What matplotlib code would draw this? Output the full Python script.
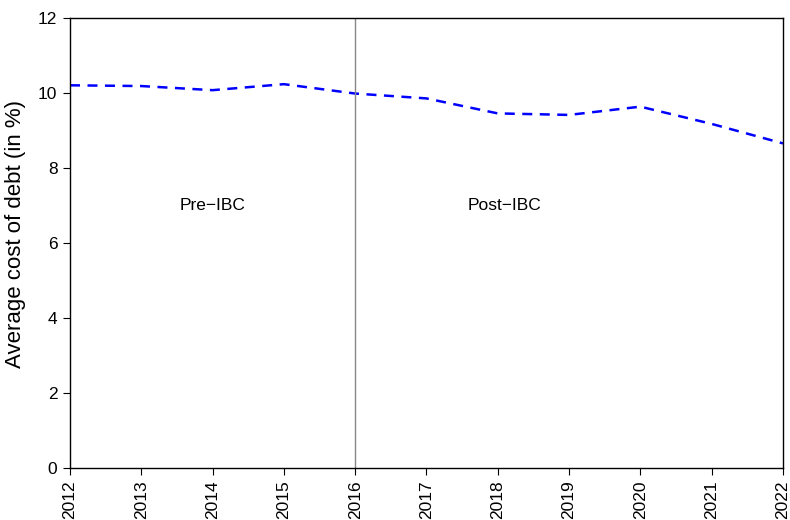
import matplotlib
matplotlib.use('Agg')
import matplotlib.pyplot as plt

plt.rcParams['font.family'] = ['Liberation Sans', 'DejaVu Sans']

# yearly average cost of debt
years = [2012, 2013, 2014, 2015, 2016, 2017, 2018, 2019, 2020, 2021, 2022]
cost = [10.21, 10.19, 10.08, 10.24, 9.99, 9.86, 9.46, 9.42, 9.64, 9.18, 8.66]
ibc_year = 2016

fig = plt.figure(figsize=(7.9, 5.2), dpi=100)
ax = fig.add_axes([0.0886, 0.1, 0.9025, 0.865])

ax.plot(years, cost, color='blue', lw=1.8, linestyle=(0, (4, 3)))
ax.axvline(ibc_year, color='#888888', lw=1)
ax.text(2014, 7, 'Pre\u2212IBC', ha='center', va='center', fontsize=12.5)
ax.text(2018.1, 7, 'Post\u2212IBC', ha='center', va='center', fontsize=12.5)

ax.set_xlim(2012, 2022)
ax.set_ylim(0, 12)
ax.set_xticks(years)
ax.set_xticklabels([str(y) for y in years], rotation=90)
ax.set_yticks(range(0, 13, 2))
ax.tick_params(labelsize=12.5, direction='out', length=5, pad=4)
ax.set_ylabel('Average cost of debt (in %)', fontsize=16)
ax.yaxis.set_label_coords(-0.062, 0.52)
for s in ax.spines.values():
    s.set_linewidth(1)

fig.savefig('out.png', dpi=100)
